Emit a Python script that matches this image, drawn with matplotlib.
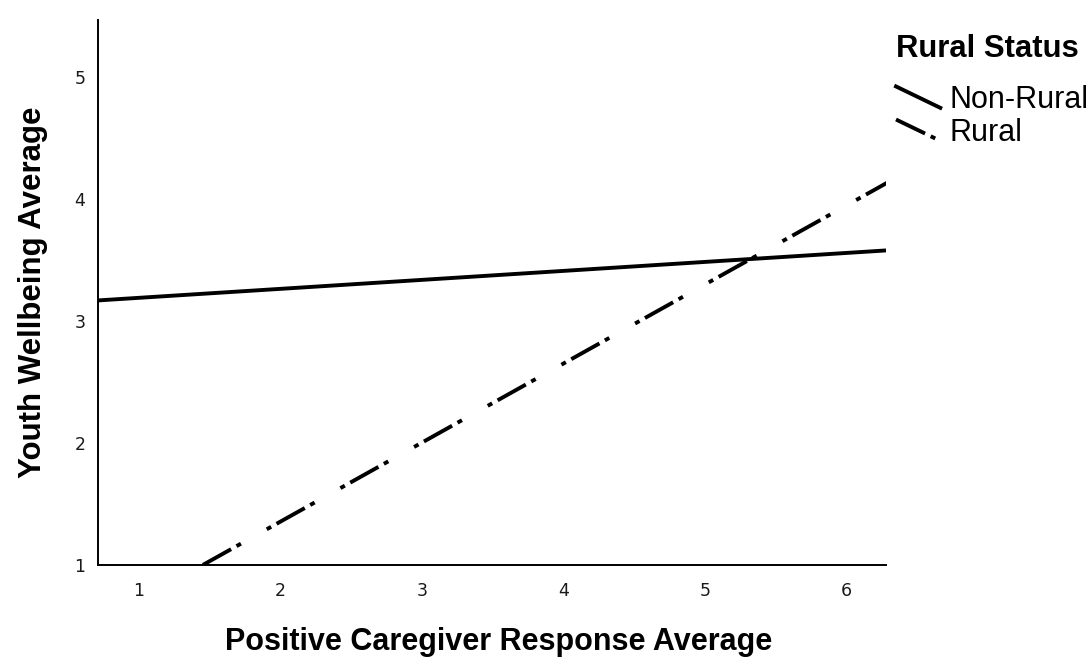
import numpy as np
import matplotlib
matplotlib.use('Agg')
import matplotlib.pyplot as plt
from matplotlib.lines import Line2D
from matplotlib.legend_handler import HandlerLine2D

# regression lines: end points
x_fit = [0.71, 6.28]
nonrural_fit = [3.17, 3.58]
rural_fit = [0.52, 4.13]

x_ticks = [1, 2, 3, 4, 5, 6]
y_ticks = [1, 2, 3, 4, 5]
groups = ['Non-Rural', 'Rural']

LW = 2.8
# dot - dash - dot, square caps so the dots look chunky
RURAL_SEQ = (0.3, 2.6, 7.3, 2.6, 0.3, 8.6)
RURAL_DASH = (14.9, RURAL_SEQ)
# legend sample starts on the long dash
RURAL_DASH_LEG = (2.4, RURAL_SEQ)


class DiagHandler(HandlerLine2D):
    """draw the legend sample as a short line going down to the right"""
    def create_artists(self, legend, orig_handle, xdescent, ydescent,
                       width, height, fontsize, trans):
        xs = [-xdescent, -xdescent + width]
        ys = [height - ydescent, -ydescent]
        line = Line2D(xs, ys)
        self.update_prop(line, orig_handle, legend)
        line.set_transform(trans)
        return [line]


fig = plt.figure(figsize=(10.92, 6.61), dpi=100)
ax = fig.add_axes([98 / 1092, 1 - 565 / 661, (886 - 98) / 1092, (565 - 20) / 661])

ax.plot(x_fit, nonrural_fit, color='black', lw=LW, solid_capstyle='butt')
ax.plot(x_fit, rural_fit, color='black', lw=LW, linestyle=RURAL_DASH,
        dash_capstyle='projecting')

ax.set_xlim(0.71, 6.28)
ax.set_ylim(1, 5.47)
ax.set_xticks(x_ticks)
ax.set_yticks(y_ticks)
ax.tick_params(length=0, labelsize=12.5, colors='#1a1a1a')
ax.tick_params(axis='x', pad=12)
ax.tick_params(axis='y', pad=9)
for s in ['top', 'right']:
    ax.spines[s].set_visible(False)
for s in ['left', 'bottom']:
    ax.spines[s].set_linewidth(1.4)
    ax.spines[s].set_color('black')

ax.set_xlabel('Positive Caregiver Response Average', labelpad=20,
              family='Liberation Sans', weight='bold', size=22)
ax.xaxis.label.set_x(0.508)
ax.set_ylabel('Youth Wellbeing Average', labelpad=19,
              family='Liberation Sans', weight='bold', size=22.5)

h1 = Line2D([], [], color='black', lw=LW)
h2 = Line2D([], [], color='black', lw=LW, linestyle=RURAL_DASH_LEG,
            dash_capstyle='projecting')
leg = fig.legend([h1, h2], groups, title='Rural Status',
                 loc='upper left', bbox_to_anchor=(896 / 1092, 1 - 34 / 661),
                 frameon=False, alignment='left',
                 prop=dict(family='Liberation Sans', size=22),
                 title_fontproperties=dict(family='Liberation Sans', weight='bold', size=22.3),
                 handlelength=1.45, handletextpad=0.3, labelspacing=0.1,
                 borderpad=0, borderaxespad=0,
                 handler_map={Line2D: DiagHandler()})
leg._legend_box.sep = 15

fig.savefig('out.png', dpi=100)
